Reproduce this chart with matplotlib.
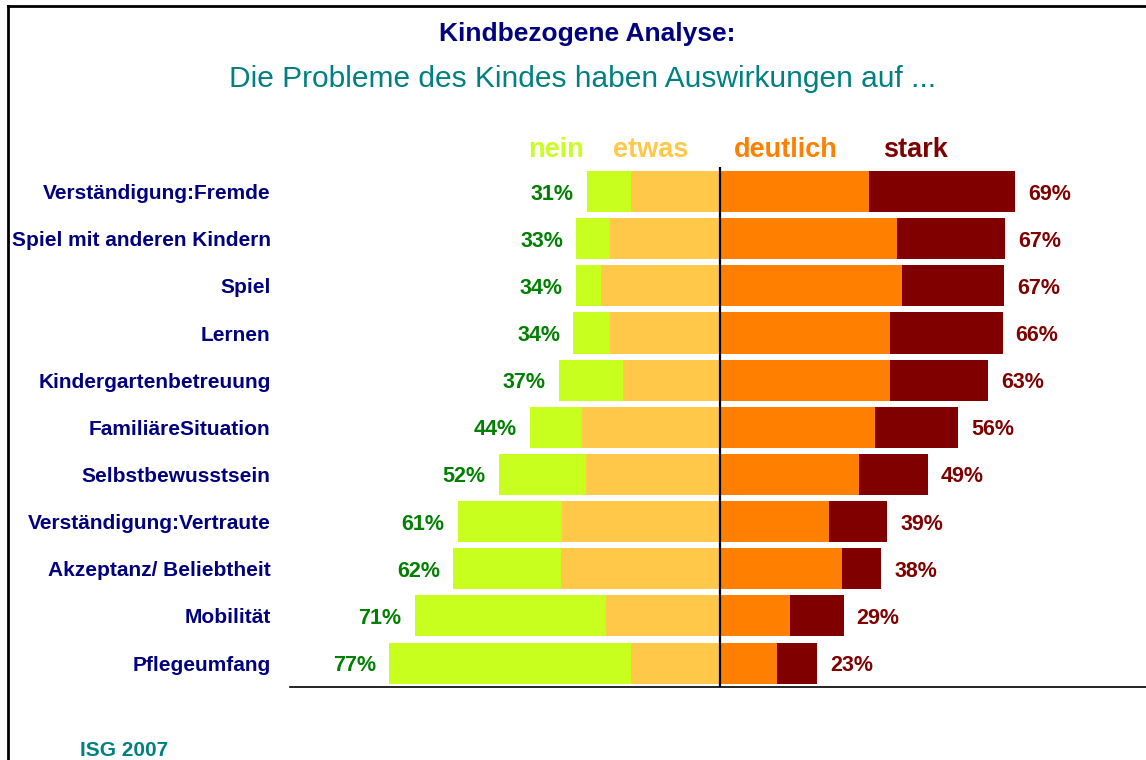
import matplotlib
matplotlib.use('Agg')
import matplotlib.pyplot as plt
import numpy as np
from matplotlib.lines import Line2D

# Data (in %)
categories = ['Verständigung:Fremde', 'Spiel mit anderen Kindern', 'Spiel', 'Lernen',
              'Kindergartenbetreuung', 'FamiliäreSituation', 'Selbstbewusstsein',
              'Verständigung:Vertraute', 'Akzeptanz/ Beliebtheit', 'Mobilität', 'Pflegeumfang']
nein = [10.2, 7.7, 6.0, 8.6, 15.0, 12.1, 20.4, 24.4, 25.1, 44.5, 56.3]
etwas = [20.7, 25.6, 27.5, 25.4, 22.4, 32.1, 31.0, 36.6, 37.0, 26.5, 20.7]
deutlich = [34.9, 41.4, 42.6, 39.6, 39.6, 36.3, 32.4, 25.4, 28.6, 16.3, 13.5]
stark = [34.0, 25.1, 23.7, 26.3, 23.0, 19.3, 16.1, 13.7, 9.1, 12.6, 9.3]
neg_labels = [31, 33, 34, 34, 37, 44, 52, 61, 62, 71, 77]
pos_labels = [69, 67, 67, 66, 63, 56, 49, 39, 38, 29, 23]

c_nein = '#C8FF1E'
c_etwas = '#FFC848'
c_deutlich = '#FF8000'
c_stark = '#800000'
navy = '#000080'
teal = '#008080'
green = '#008000'

plt.rcParams['font.family'] = ['Liberation Sans', 'DejaVu Sans']

W, H = 1146, 760
fig = plt.figure(figsize=(W / 100, H / 100), dpi=100)
ax = fig.add_axes([290 / W, 1 - 686.7 / H, (W - 290) / W, (686.7 - 167) / H])

y = np.arange(len(categories))
nein = np.array(nein)
etwas = np.array(etwas)
deutlich = np.array(deutlich)
stark = np.array(stark)
h = 0.87

ax.barh(y, -etwas, height=h, color=c_etwas)
ax.barh(y, -nein, left=-etwas, height=h, color=c_nein)
ax.barh(y, deutlich, height=h, color=c_deutlich)
ax.barh(y, stark, left=deutlich, height=h, color=c_stark)
ax.axvline(0, color='black', lw=1.6)

for i in range(len(categories)):
    ax.text(-(nein[i] + etwas[i]) - 3, y[i], f'{neg_labels[i]}%', ha='right',
            va='center_baseline', color=green, fontsize=15.5, fontweight='bold')
    ax.text(deutlich[i] + stark[i] + 3, y[i], f'{pos_labels[i]}%', ha='left',
            va='center_baseline', color=c_stark, fontsize=15.5, fontweight='bold')

ax.set_xlim(-100, 99.3)
ax.set_ylim(10.5, -0.52)
ax.set_yticks(y)
ax.set_yticklabels(categories, color=navy, fontsize=15, fontweight='bold')
ax.tick_params(axis='y', length=0, pad=14)
ax.set_xticks([])
for s in ['top', 'left', 'right']:
    ax.spines[s].set_visible(False)
ax.spines['bottom'].set_linewidth(1.2)

# legend headers
for txt, xc, col in [('nein', 556, c_nein), ('etwas', 651, c_etwas),
                     ('deutlich', 786, c_deutlich), ('stark', 916, c_stark)]:
    fig.text(xc / W, 1 - 147 / H, txt, ha='center', va='center_baseline', color=col,
             fontsize=19.5, fontweight='bold')

fig.text(587 / W, 1 - 31 / H, 'Kindbezogene Analyse:', ha='center', va='center_baseline',
         color=navy, fontsize=19, fontweight='bold')
fig.text(583 / W, 1 - 76 / H, 'Die Probleme des Kindes haben Auswirkungen auf ...',
         ha='center', va='center_baseline', color=teal, fontsize=21.5)
fig.text(80 / W, 1 - 749 / H, 'ISG 2007', ha='left', va='center_baseline', color=teal,
         fontsize=15, fontweight='bold')

# frame (left and top edges)
fig.add_artist(Line2D([8 / W, 8 / W], [0, 1 - 6 / H], transform=fig.transFigure,
                      color='black', lw=2))
fig.add_artist(Line2D([8 / W, 1], [1 - 6 / H, 1 - 6 / H], transform=fig.transFigure,
                      color='black', lw=2))

fig.savefig('out.png', dpi=100)
